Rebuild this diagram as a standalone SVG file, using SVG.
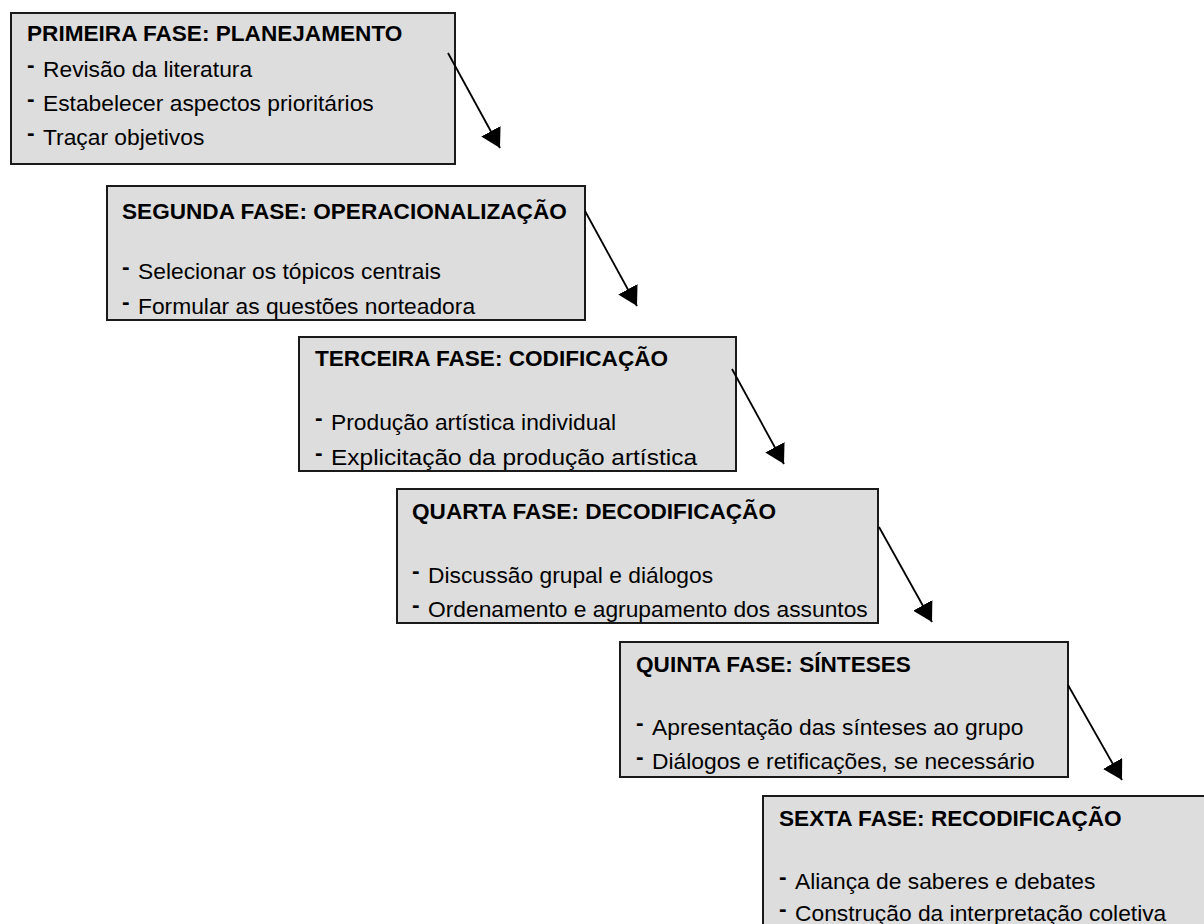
<svg xmlns="http://www.w3.org/2000/svg" width="1204" height="924" viewBox="0 0 1204 924">
  <style>
    .box { fill: #dddddd; stroke: #1a1a1a; stroke-width: 2; }
    .ttl { font-family: "Liberation Sans", Arial, sans-serif; font-size: 22.6px; font-weight: bold; fill: #000; }
    .itm { font-family: "Liberation Sans", Arial, sans-serif; font-size: 22.8px; fill: #000; }
    .dash { font-weight: bold; }
    .conn { stroke: #000; stroke-width: 1.8; fill: none; marker-end: url(#head); }
  </style>
  <defs>
    <marker id="head" viewBox="0 0 19 22" refX="19" refY="11" markerWidth="19" markerHeight="22" markerUnits="userSpaceOnUse" orient="auto">
      <path d="M0 0 L19 11 L0 22 z" fill="#000"/>
    </marker>
    <clipPath id="c1"><rect x="12" y="14" width="442" height="149"/></clipPath>
    <clipPath id="c2"><rect x="108" y="187" width="476" height="132"/></clipPath>
    <clipPath id="c3"><rect x="300" y="338" width="435" height="132"/></clipPath>
    <clipPath id="c4"><rect x="398" y="490" width="479" height="132"/></clipPath>
    <clipPath id="c5"><rect x="621" y="643" width="446" height="133"/></clipPath>
    <clipPath id="c6"><rect x="764" y="797" width="460" height="140"/></clipPath>
  </defs>

  <rect width="1204" height="924" fill="#ffffff"/>

  <!-- phase 1 -->
  <g id="fase1">
    <rect class="box" x="11" y="13" width="444" height="151"/>
    <g clip-path="url(#c1)">
      <text class="ttl" x="27" y="41">PRIMEIRA FASE: PLANEJAMENTO</text>
      <text class="itm" y="77"><tspan class="dash" x="27" dy="-5">-</tspan><tspan x="43" dy="5">Revisão da literatura</tspan></text>
      <text class="itm" y="111"><tspan class="dash" x="27" dy="-5">-</tspan><tspan x="43" dy="5">Estabelecer aspectos prioritários</tspan></text>
      <text class="itm" y="145"><tspan class="dash" x="27" dy="-5">-</tspan><tspan x="43" dy="5">Traçar objetivos</tspan></text>
    </g>
  </g>

  <!-- phase 2 -->
  <g id="fase2">
    <rect class="box" x="107" y="186" width="478" height="134"/>
    <g clip-path="url(#c2)">
      <text class="ttl" x="122" y="219">SEGUNDA FASE: OPERACIONALIZAÇÃO</text>
      <text class="itm" y="279"><tspan class="dash" x="122" dy="-5">-</tspan><tspan x="138" dy="5">Selecionar os tópicos centrais</tspan></text>
      <text class="itm" y="314"><tspan class="dash" x="122" dy="-5">-</tspan><tspan x="138" dy="5">Formular as questões norteadora</tspan></text>
    </g>
  </g>

  <!-- phase 3 -->
  <g id="fase3">
    <rect class="box" x="299" y="337" width="437" height="134"/>
    <g clip-path="url(#c3)">
      <text class="ttl" x="315" y="366">TERCEIRA FASE: CODIFICAÇÃO</text>
      <text class="itm" y="430"><tspan class="dash" x="315" dy="-5">-</tspan><tspan x="331" dy="5">Produção artística individual</tspan></text>
      <text class="itm" y="465"><tspan class="dash" x="315" dy="-5">-</tspan><tspan x="331" dy="5" textLength="366" lengthAdjust="spacingAndGlyphs">Explicitação da produção artística</tspan></text>
    </g>
  </g>

  <!-- phase 4 -->
  <g id="fase4">
    <rect class="box" x="397" y="489" width="481" height="134"/>
    <g clip-path="url(#c4)">
      <text class="ttl" x="412" y="519">QUARTA FASE: DECODIFICAÇÃO</text>
      <text class="itm" y="583"><tspan class="dash" x="412" dy="-5">-</tspan><tspan x="428" dy="5">Discussão grupal e diálogos</tspan></text>
      <text class="itm" y="617"><tspan class="dash" x="412" dy="-5">-</tspan><tspan x="428" dy="5">Ordenamento e agrupamento dos assuntos</tspan></text>
    </g>
  </g>

  <!-- phase 5 -->
  <g id="fase5">
    <rect class="box" x="620" y="642" width="448" height="135"/>
    <g clip-path="url(#c5)">
      <text class="ttl" x="636" y="672">QUINTA FASE: SÍNTESES</text>
      <text class="itm" y="735"><tspan class="dash" x="636" dy="-5">-</tspan><tspan x="652" dy="5">Apresentação das sínteses ao grupo</tspan></text>
      <text class="itm" y="769"><tspan class="dash" x="636" dy="-5">-</tspan><tspan x="652" dy="5">Diálogos e retificações, se necessário</tspan></text>
    </g>
  </g>

  <!-- phase 6 -->
  <g id="fase6">
    <rect class="box" x="763" y="796" width="462" height="142"/>
    <g clip-path="url(#c6)">
      <text class="ttl" x="779" y="826">SEXTA FASE: RECODIFICAÇÃO</text>
      <text class="itm" y="889"><tspan class="dash" x="779" dy="-5">-</tspan><tspan x="795" dy="5">Aliança de saberes e debates</tspan></text>
      <text class="itm" y="921"><tspan class="dash" x="779" dy="-5">-</tspan><tspan x="795" dy="5">Construção da interpretação coletiva</tspan></text>
    </g>
  </g>

  <!-- arrows between phases -->
  <g id="connectors">
    <line class="conn" x1="448" y1="53" x2="500" y2="148"/>
    <line class="conn" x1="585" y1="211" x2="637" y2="306"/>
    <line class="conn" x1="732" y1="369" x2="784" y2="464"/>
    <line class="conn" x1="879" y1="527" x2="932" y2="622"/>
    <line class="conn" x1="1068" y1="685" x2="1122" y2="780"/>
  </g>
</svg>
